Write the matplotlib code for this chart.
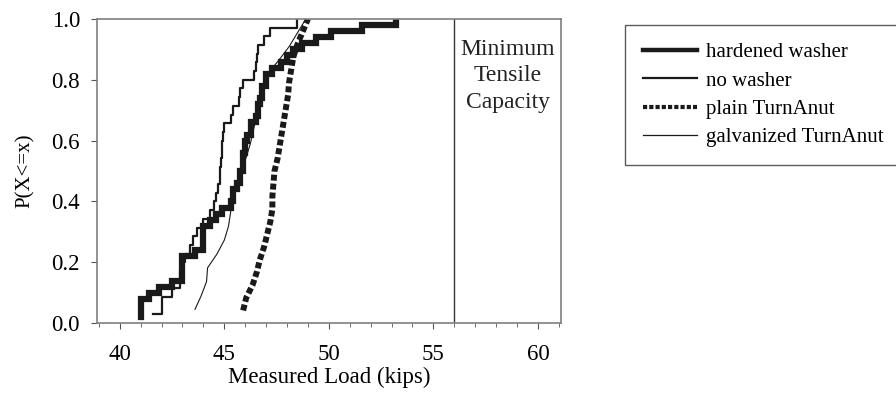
import numpy as np
import matplotlib.pyplot as plt
from matplotlib.ticker import MultipleLocator

plt.rcParams['font.family'] = ['Liberation Serif', 'DejaVu Serif']

# measured loads (kips), sorted
hardened_washer = [41.0, 41.0, 41.0, 41.0, 41.4, 41.9, 42.5, 43.0, 43.0, 43.0,
                   43.0, 43.6, 44.0, 44.0, 44.0, 44.0, 44.3, 44.6, 44.9, 45.3,
                   45.4, 45.4, 45.6, 45.75, 45.75, 45.9, 45.9, 45.9, 46.0, 46.0,
                   46.1, 46.3, 46.3, 46.5, 46.6, 46.6, 46.7, 46.8, 46.8, 47.0,
                   47.0, 47.3, 47.7, 48.0, 48.3, 48.7, 49.4, 50.1, 51.6, 53.2]
no_washer = [41.6, 42.0, 42.0, 42.5, 42.9, 42.9, 43.0, 43.1, 43.35, 43.5,
             43.7, 44.0, 44.3, 44.5, 44.6, 44.7, 44.8, 44.8, 44.85, 44.9,
             44.9, 44.95, 45.0, 45.3, 45.4, 45.7, 45.75, 45.9, 46.4, 46.5,
             46.55, 46.6, 46.9, 47.2, 48.5]
plain_turnanut = [45.9, 46.05, 46.35, 46.55, 46.7, 46.9, 47.05, 47.2, 47.3, 47.3,
                  47.35, 47.4, 47.55, 47.65, 47.75, 47.85, 47.95, 48.05, 48.1, 48.2,
                  48.3, 48.5, 48.75, 49.0]
galv_turnanut = [43.6, 43.9, 44.15, 44.2, 44.65, 45.0, 45.2, 45.3, 45.4, 45.6,
                 45.8, 46.05, 46.25, 46.4, 46.55, 46.65, 46.8, 47.05, 47.6, 48.1,
                 48.5, 48.9]
min_tensile = 56.0


def cum_prob(vals):
    n = len(vals)
    return np.arange(1, n + 1) / n


fig = plt.figure(figsize=(8.96, 3.95), dpi=100)
ax = fig.add_axes([0.108, 0.182, 0.518, 0.77])

ax.plot(hardened_washer, cum_prob(hardened_washer), color='#1a1a1a', lw=4.5,
        drawstyle='steps-post', solid_joinstyle='miter', label='hardened washer')
ax.plot(no_washer, cum_prob(no_washer), color='#1a1a1a', lw=1.6,
        drawstyle='steps-post', label='no washer')
ax.plot(plain_turnanut, cum_prob(plain_turnanut), color='#1a1a1a', lw=4.3,
        dashes=(1.0, 0.5), dash_capstyle='butt', label='plain TurnAnut')
ax.plot(galv_turnanut, cum_prob(galv_turnanut), color='#1a1a1a', lw=0.8,
        label='galvanized TurnAnut')

ax.axvline(min_tensile, color='#333333', lw=1.0)
ax.text(58.55, 0.935, 'Minimum\nTensile\nCapacity', ha='center', va='top',
        fontsize=17, linespacing=1.35, color='#222222')

ax.set_xlim(38.9, 61.1)
ax.set_ylim(0, 1.0)
ax.xaxis.set_major_locator(MultipleLocator(5))
ax.xaxis.set_minor_locator(MultipleLocator(1))
ax.yaxis.set_major_locator(MultipleLocator(0.2))
ax.yaxis.set_major_formatter(plt.FormatStrFormatter('%.1f'))
ax.tick_params(axis='both', which='major', labelsize=16.5, length=4,
               color='#555555', direction='out')
ax.tick_params(axis='y', which='major', pad=8)
ax.tick_params(axis='x', which='major', pad=11)
ax.tick_params(axis='x', which='minor', length=3, color='#555555')
for s in ax.spines.values():
    s.set_color('#7f7f7f')
    s.set_linewidth(1.2)

ax.set_xlabel('Measured Load (kips)', fontsize=16.5, labelpad=1)
ax.set_ylabel('P(X<=x)', fontsize=15, labelpad=12)

leg = fig.legend(loc='upper left', bbox_to_anchor=(0.6975, 0.937), fontsize=15,
                 frameon=True, fancybox=False, handlelength=2.6,
                 handletextpad=0.42, labelspacing=0.42, borderpad=0.85,
                 borderaxespad=0)
leg.get_frame().set_edgecolor('#333333')
leg.get_frame().set_linewidth(1.0)
hl = leg.get_lines()
hl[0].set_linewidth(3.2)
hl[1].set_linewidth(1.6)
hl[2].set_linewidth(3.0)
hl[2].set_dashes((1.0, 0.5))
hl[3].set_linewidth(0.9)

fig.savefig('out.png', dpi=100)
